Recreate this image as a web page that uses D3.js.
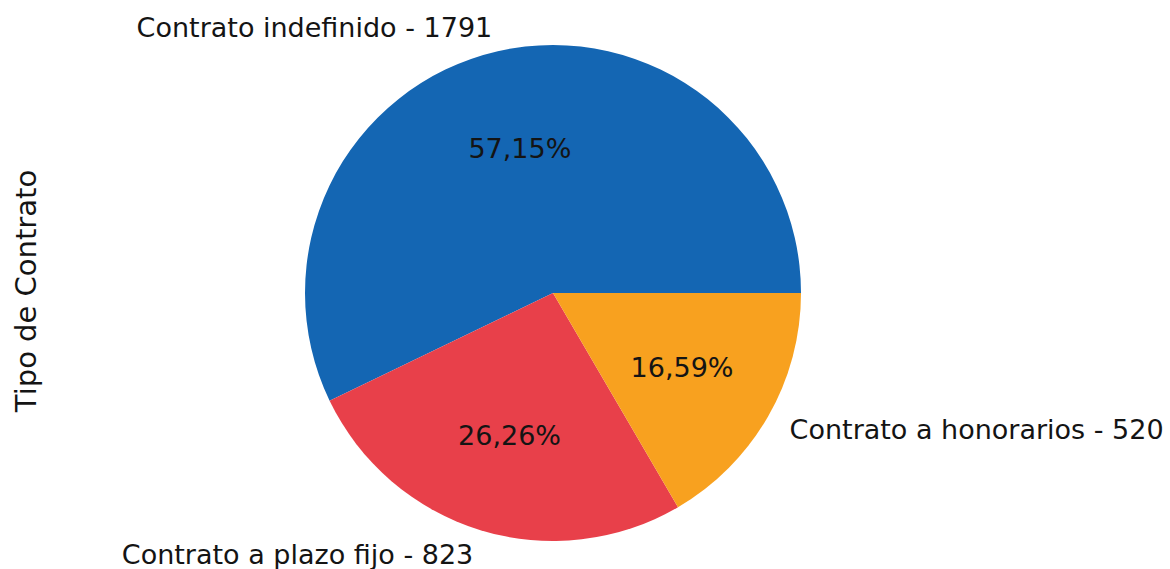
<!DOCTYPE html>
<html>
<head>
<meta charset="utf-8">
<script src="https://cdn.jsdelivr.net/npm/d3@7"></script>
<style>
  body { margin: 0; background: #fff; }
  svg text { font-family: "DejaVu Sans", sans-serif; fill: #141414; }
</style>
</head>
<body>
<div id="chart"></div>
<script>
  // contract types and how many people have each
  var categories = ['Contrato indefinido', 'Contrato a plazo fijo', 'Contrato a honorarios'];
  var counts = [1791, 823, 520];
  var colors = ['#1466b3', '#e8404a', '#f8a11f'];
  var yTitle = 'Tipo de Contrato';

  var width = 1170, height = 569;
  var cx = 553, cy = 293, radius = 248;

  var svg = d3.select('#chart').append('svg')
    .attr('width', width)
    .attr('height', height);

  var data = categories.map(function(c, i) { return { label: c, value: counts[i], color: colors[i] }; });
  var total = d3.sum(counts);

  // matplotlib style: start at 3 o'clock, go counter-clockwise
  var pie = d3.pie().sort(null).value(function(d) { return d.value; })
    .startAngle(Math.PI / 2).endAngle(Math.PI / 2 - 2 * Math.PI);

  var arc = d3.arc().innerRadius(0).outerRadius(radius);

  var g = svg.append('g').attr('transform', 'translate(' + cx + ',' + cy + ')');
  var slices = pie(data);

  g.selectAll('path')
    .data(slices)
    .enter().append('path')
      .attr('d', arc)
      .attr('fill', function(d) { return d.data.color; });

  function mid(d) { return (d.startAngle + d.endAngle) / 2; }
  var fmt = d3.format('.2f');

  // percentages inside at 0.6 r
  g.selectAll('.pct')
    .data(slices)
    .enter().append('text')
      .attr('class', 'pct')
      .attr('x', function(d) { return Math.sin(mid(d)) * radius * 0.6; })
      .attr('y', function(d) { return -Math.cos(mid(d)) * radius * 0.6; })
      .attr('dy', '0.36em')
      .attr('text-anchor', 'middle')
      .attr('font-size', '27px')
      .text(function(d) { return fmt(d.data.value / total * 100).replace('.', ',') + '%'; });

  // outside labels at 1.1 r
  g.selectAll('.lbl')
    .data(slices)
    .enter().append('text')
      .attr('class', 'lbl')
      .attr('x', function(d) { return Math.sin(mid(d)) * radius * 1.1; })
      .attr('y', function(d) { return -Math.cos(mid(d)) * radius * 1.1; })
      .attr('dy', '0.36em')
      .attr('text-anchor', function(d) { return Math.sin(mid(d)) < 0 ? 'end' : 'start'; })
      .attr('font-size', '27px')
      .text(function(d) { return d.data.label + ' - ' + d.data.value; });

  svg.append('text')
    .attr('transform', 'translate(36,' + (cy - 2) + ') rotate(-90)')
    .attr('text-anchor', 'middle')
    .attr('font-size', '29px')
    .text(yTitle);
</script>
</body>
</html>
